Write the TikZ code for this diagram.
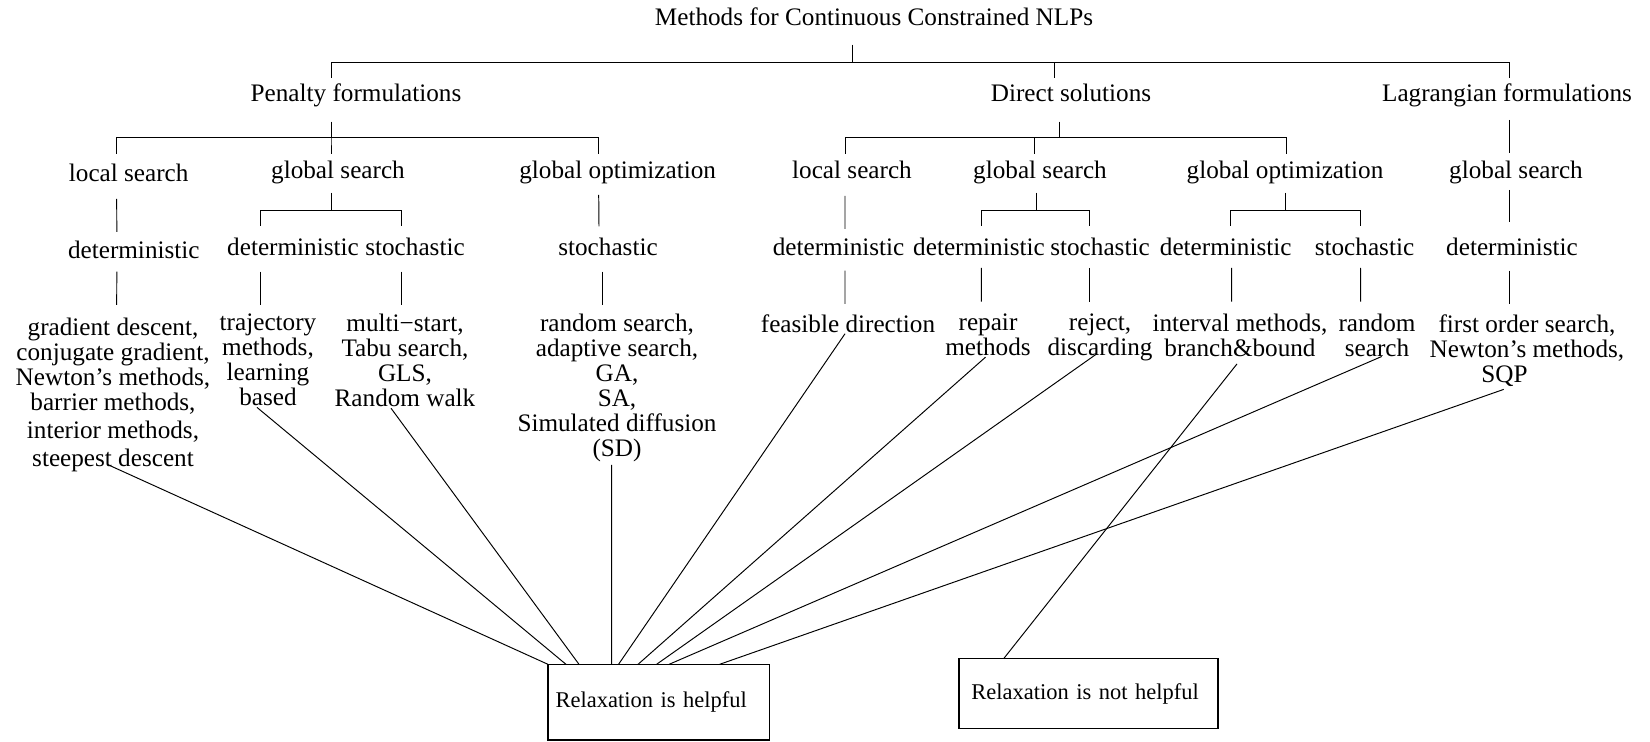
\documentclass[tikz,border=0pt]{standalone}
\usepackage{fontspec}
\setmainfont{Liberation Serif}
\usepackage{tikz}

\begin{document}
\begin{tikzpicture}[x=0.02cm, y=-0.02cm, line width=0.55pt,
    lbl/.style={font=\fontsize{14.34}{14.23}\selectfont, inner sep=0pt, anchor=base},
    blk/.style={font=\fontsize{14.34}{14.23}\selectfont, inner sep=0pt, anchor=north, align=center},
    relbox/.style={draw, line width=0.8pt, outer sep=0pt, font=\fontsize{12.8}{15}\selectfont, align=left, inner ysep=0pt}]
    \useasboundingbox (0,0) rectangle (1650,742);

    % Root and the three families
    \node[lbl] (top) at (874,26) {Methods for Continuous Constrained NLPs};
    \node[lbl] (pen) at (356,102) {Penalty formulations};
    \node[lbl] (dir) at (1071,102) {Direct solutions};
    \node[lbl] (lag) at (1507,102) {Lagrangian formulations};

    % Search strategies
    \node[lbl] (pls) at (128.7,182) {local search};
    \node[lbl] (pgs) at (338,179) {global search};
    \node[lbl] (pgo) at (617.7,179) {global optimization};
    \node[lbl] (dls) at (852,179) {local search};
    \node[lbl] (dgs) at (1040,179) {global search};
    \node[lbl] (dgo) at (1285,179) {global optimization};
    \node[lbl] (lgs) at (1516,179) {global search};

    % Deterministic / stochastic
    \node[lbl] (pld) at (133.8,259) {deterministic};
    \node[lbl] (pgd) at (293,255.5) {deterministic};
    \node[lbl] (pgst) at (415,255.5) {stochastic};
    \node[lbl] (pgos) at (608,255.5) {stochastic};
    \node[lbl] (dld) at (838.6,255.5) {deterministic};
    \node[lbl] (dgd) at (979,255.5) {deterministic};
    \node[lbl] (dgst) at (1100,255.5) {stochastic};
    \node[lbl] (dod) at (1225.7,255.5) {deterministic};
    \node[lbl] (dost) at (1364.5,255.5) {stochastic};
    \node[lbl] (lgd) at (1512,255.5) {deterministic};

    % Methods
    \node[blk] (gd) at (113,317.3) {gradient descent,\\conjugate gradient,\\Newton’s methods,\\barrier methods,\\[0.06cm]interior methods,\\[0.06cm]steepest descent};
    \node[blk] (tr) at (268,313.8) {trajectory\\methods,\\learning\\based};
    \node[blk] (ms) at (405,313.8) {multi−start,\\Tabu search,\\GLS,\\Random walk};
    \node[blk] (rs) at (617,313.8) {random search,\\adaptive search,\\GA,\\SA,\\Simulated diffusion\\(SD)};
    \node[blk] (fd) at (848,313.8) {feasible direction};
    \node[blk] (rp) at (988,313.8) {repair\\methods};
    \node[blk] (rj) at (1100,313.8) {reject,\\discarding};
    \node[blk] (iv) at (1240,313.8) {interval methods,\\branch\&bound};
    \node[blk] (rd) at (1377,313.8) {random\\search};
    \node[blk] (fo) at (1527,313.8) {first order search,\\Newton’s methods,\\SQP\hspace*{0.9cm}};

    % Verdict boxes
    \node[relbox, minimum width=4.428cm, minimum height=1.514cm, text width=4.124cm, inner xsep=0.152cm] (rh) at (658.7,702.2) {Relaxation is helpful};
    \node[relbox, minimum width=5.18cm, minimum height=1.396cm, text width=4.684cm, inner xsep=0.248cm] (rn) at (1088.5,693.6) {Relaxation is not helpful};

    % Root to families
    \draw ([shift={(-22,19)}]top.base) |- ([shift={(-25,-40)}]pen.base) -- ([shift={(-25,-24)}]pen.base);
    \draw ([shift={(-22,19)}]top.base) |- ([shift={(-17,-40)}]dir.base) -- ([shift={(-17,-24)}]dir.base);
    \draw ([shift={(-22,19)}]top.base) |- ([shift={(2,-40)}]lag.base) -- ([shift={(2,-24)}]lag.base);

    % Families to search strategies
    \draw ([shift={(-25,20)}]pen.base) |- ([shift={(-12,-45)}]pls.base) -- ([shift={(-12,-28)}]pls.base);
    \draw ([shift={(-25,20)}]pen.base) |- ([shift={(-7,-42)}]pgs.base) -- ([shift={(-7,-25)}]pgs.base);
    \draw ([shift={(-25,20)}]pen.base) |- ([shift={(-19,-42)}]pgo.base) -- ([shift={(-19,-25)}]pgo.base);
    \draw ([shift={(-12,20)}]dir.base) |- ([shift={(-7,-42)}]dls.base) -- ([shift={(-7,-25)}]dls.base);
    \draw ([shift={(-12,20)}]dir.base) |- ([shift={(-6,-42)}]dgs.base) -- ([shift={(-6,-25)}]dgs.base);
    \draw ([shift={(-12,20)}]dir.base) |- ([shift={(1,-42)}]dgo.base) -- ([shift={(1,-25)}]dgo.base);
    \draw ([shift={(2,18)}]lag.base) -- ([shift={(-7,-26)}]lgs.base);

    % Search strategies to deterministic / stochastic
    \draw ([shift={(-12,17)}]pls.base) -- ([shift={(-17,-27)}]pld.base);
    \draw ([shift={(-7,14)}]pgs.base) |- ([shift={(-33,-45.5)}]pgd.base) -- ([shift={(-33,-29)}]pgd.base);
    \draw ([shift={(-7,14)}]pgs.base) |- ([shift={(-14,-45.5)}]pgst.base) -- ([shift={(-14,-29)}]pgst.base);
    \draw ([shift={(-19,16)}]pgo.base) -- ([shift={(-9,-29)}]pgos.base);
    \draw ([shift={(-7,17)}]dls.base) -- ([shift={(6.4,-26.5)}]dld.base);
    \draw ([shift={(-3.5,14)}]dgs.base) |- ([shift={(2.3,-45.5)}]dgd.base) -- ([shift={(2.3,-29)}]dgd.base);
    \draw ([shift={(-3.5,14)}]dgs.base) |- ([shift={(-11,-45.5)}]dgst.base) -- ([shift={(-11,-29)}]dgst.base);
    \draw ([shift={(0.4,14)}]dgo.base) |- ([shift={(5,-45.5)}]dod.base) -- ([shift={(5,-29)}]dod.base);
    \draw ([shift={(0.4,14)}]dgo.base) |- ([shift={(-4,-45.5)}]dost.base) -- ([shift={(-4,-29)}]dost.base);
    \draw ([shift={(-7,11)}]lgs.base) -- ([shift={(-3,-33)}]lgd.base);

    % Down to the methods
    \draw ([shift={(-17,12.7)}]pld.base) -- ([shift={(3.7,-12.3)}]gd.north);
    \draw ([shift={(-33,16.2)}]pgd.base) -- ([shift={(-8,-8.8)}]tr.north);
    \draw ([shift={(-14,16.2)}]pgst.base) -- ([shift={(-4,-8.8)}]ms.north);
    \draw ([shift={(-5.6,16.2)}]pgos.base) -- ([shift={(-14.6,-8.8)}]rs.north);
    \draw ([shift={(6.4,15.2)}]dld.base) -- ([shift={(-3,-9.8)}]fd.north);
    \draw ([shift={(2.3,12.5)}]dgd.base) -- ([shift={(-6.7,-12.1)}]rp.north);
    \draw ([shift={(-11,12.5)}]dgst.base) -- ([shift={(-11,-12.1)}]rj.north);
    \draw ([shift={(6,12.5)}]dod.base) -- ([shift={(-8.3,-12.1)}]iv.north);
    \draw ([shift={(-4,12.5)}]dost.base) -- ([shift={(-16.4,-12.1)}]rd.north);
    \draw ([shift={(-3,15.2)}]lgd.base) -- ([shift={(-18,-9.8)}]fo.north);

    % Methods to the verdicts
    \draw ([shift={(-5.7,-7.7)}]gd.south) -- (rh.north west);
    \draw ([shift={(-11,0.7)}]tr.south) -- ([shift={(18,0)}]rh.north west);
    \draw ([shift={(-14,0.7)}]ms.south) -- ([shift={(31,0)}]rh.north west);
    \draw ([shift={(-5.3,2.2)}]rs.south) -- ([shift={(63.7,0)}]rh.north west);
    \draw ([shift={(-3,1)}]fd.south) -- ([shift={(70.5,0)}]rh.north west);
    \draw ([shift={(-2.5,0.5)}]rp.south) -- ([shift={(90,0)}]rh.north west);
    \draw ([shift={(-4,-7.5)}]rj.south) -- ([shift={(108.5,0)}]rh.north west);
    \draw ([shift={(4.7,-1)}]rd.south) -- ([shift={(121,0)}]rh.north west);
    \draw ([shift={(-23.3,2.8)}]fo.south) -- ([shift={(171.5,0)}]rh.north west);
    \draw ([shift={(-3,6.4)}]iv.south) -- ([shift={(44.6,0)}]rn.north west);
\end{tikzpicture}
\end{document}
